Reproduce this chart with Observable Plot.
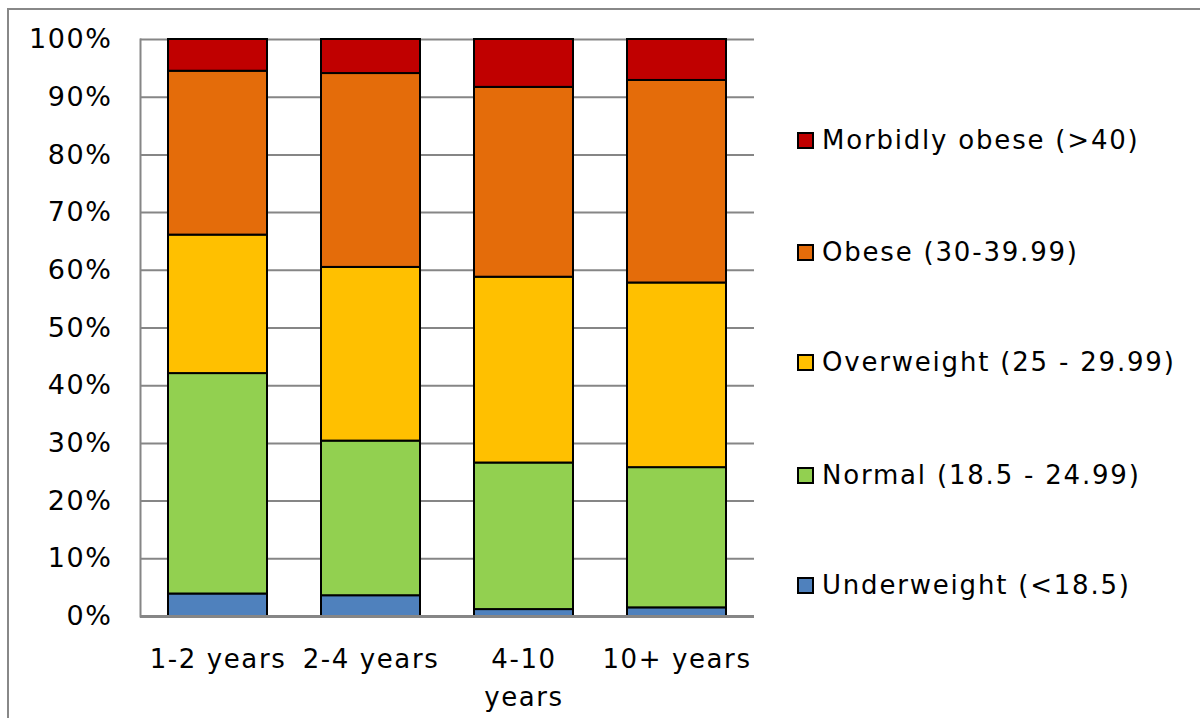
<!DOCTYPE html>
<html>
<head>
<meta charset="utf-8">
<script src="https://cdn.jsdelivr.net/npm/d3@7"></script>
<script src="https://cdn.jsdelivr.net/npm/@observablehq/plot@0.6"></script>
<style>
  html, body { margin: 0; padding: 0; background: #fff; }
  #wrap { position: relative; width: 1200px; height: 718px; overflow: hidden; background: #fff;
          font-family: "DejaVu Sans", Verdana, sans-serif; }
  #frame { position: absolute; left: 7px; top: 8px; width: 1400px; height: 900px;
           border-top: 2px solid #888; border-left: 2px solid #888; }
  #chart { position: absolute; left: 0; top: 0; }
  .lg { position: absolute; left: 797px; height: 30px; display: flex; align-items: center;
        font-size: 26px; letter-spacing: 1.8px; color: #000; white-space: nowrap; }
  .sw { width: 13px; height: 13px; border: 2px solid #000; margin-right: 8px; flex: none; }
</style>
</head>
<body>
<div id="wrap">
  <div id="frame"></div>
  <div id="chart"></div>
</div>
<script>
const periods = ["1-2 years", "2-4 years", "4-10 years", "10+ years"];
const periodLabels = ["1-2 years", "2-4 years", "4-10\nyears", "10+ years"];
const categories = ["Underweight (<18.5)", "Normal (18.5 - 24.99)", "Overweight (25 - 29.99)", "Obese (30-39.99)", "Morbidly obese (>40)"];
const colors = ["#4F81BD", "#92D050", "#FFC000", "#E46C0A", "#C00000"];
// percent share per category, one entry per period
const underweight = [3.9, 3.6, 1.2, 1.5];
const normal      = [38.2, 26.8, 25.4, 24.3];
const overweight  = [24.0, 30.1, 32.2, 32.0];
const obese       = [28.4, 33.6, 32.9, 35.1];
const morbid      = [5.5, 5.9, 8.3, 7.1];
const yTicks = [0, 10, 20, 30, 40, 50, 60, 70, 80, 90, 100];
const legendOrder = ["Morbidly obese (>40)", "Obese (30-39.99)", "Overweight (25 - 29.99)", "Normal (18.5 - 24.99)", "Underweight (<18.5)"];

const series = [underweight, normal, overweight, obese, morbid];
const data = [];
categories.forEach((c, i) => periods.forEach((p, j) => data.push({period: p, cat: c, value: series[i][j]})));

const plot = Plot.plot({
  width: 1200,
  height: 718,
  marginLeft: 140,
  marginRight: 446,
  marginTop: 39,
  marginBottom: 102,
  style: {fontFamily: '"DejaVu Sans", Verdana, sans-serif', fontSize: "26px", letterSpacing: "1.6px", color: "#000", background: "transparent"},
  x: {domain: periods, paddingInner: 0.35, paddingOuter: 0.175, label: null},
  y: {domain: [0, 100], label: null},
  color: {domain: categories, range: colors},
  marks: [
    Plot.gridY(yTicks, {stroke: "#868686", strokeOpacity: 1, strokeWidth: 2}),
    Plot.barY(data, {x: "period", y: "value", fill: "cat", order: categories, stroke: "#000", strokeWidth: 2}),
    Plot.ruleY([0], {stroke: "#868686", strokeWidth: 3}),
    Plot.frame({anchor: "left", stroke: "#868686", strokeWidth: 2}),
    Plot.axisY({ticks: yTicks, tickSize: 0, tickPadding: 28, tickFormat: d => d + "%", fontSize: 27, style: {letterSpacing: "2px"}}),
    Plot.axisX({tickSize: 0, tickPadding: 25, tickFormat: (d, i) => periodLabels[periods.indexOf(d)], fontSize: 26, lineHeight: 1.45})
  ]
});
document.getElementById("chart").appendChild(plot);

const legendY = [125, 237, 347, 460, 570];
const wrap = document.getElementById("wrap");
legendOrder.forEach((c, k) => {
  const row = document.createElement("div");
  row.className = "lg";
  row.style.top = legendY[k] + "px";
  const sw = document.createElement("span");
  sw.className = "sw";
  sw.style.background = colors[categories.indexOf(c)];
  const t = document.createElement("span");
  t.textContent = c;
  row.appendChild(sw);
  row.appendChild(t);
  wrap.appendChild(row);
});
</script>
</body>
</html>
